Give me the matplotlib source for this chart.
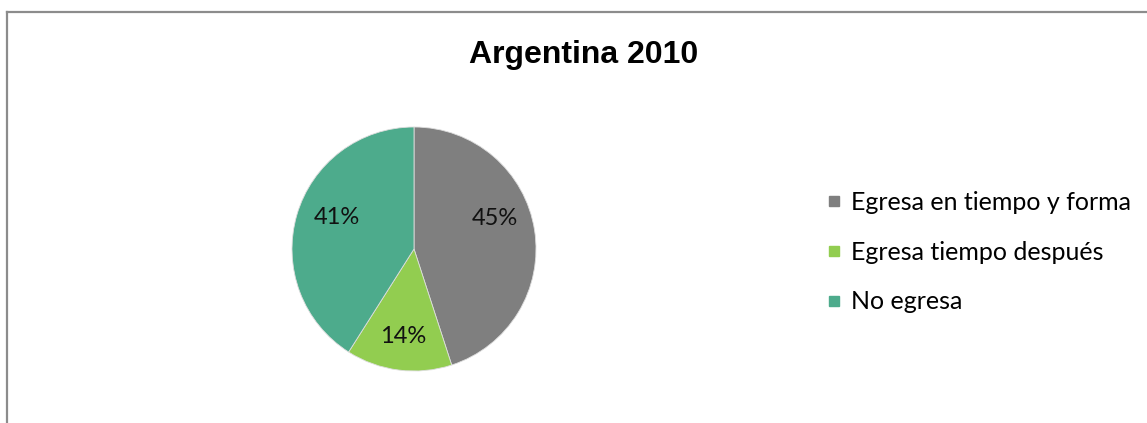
import matplotlib.pyplot as plt
from matplotlib.lines import Line2D

# Egreso de estudiantes - Argentina 2010
categorias = ["Egresa en tiempo y forma", "Egresa tiempo después", "No egresa"]
porcentajes = [45, 14, 41]
colores = ["#7F7F7F", "#92CD50", "#4DAB8C"]

plt.rcParams['font.family'] = ['Lato', 'DejaVu Sans']

fig = plt.figure(figsize=(11.47, 4.23), dpi=100)
W, H = 1147, 423

# marco del grafico (solo borde superior e izquierdo)
fig.add_artist(Line2D([7 / W, 1], [1 - 12.5 / H, 1 - 12.5 / H], color="#8c8c8c", lw=1.6))
fig.add_artist(Line2D([7.5 / W, 7.5 / W], [0, 1 - 12.5 / H], color="#8c8c8c", lw=1.6))

# torta
cx, cy, r = 414, 249, 122
ax = fig.add_axes([(cx - r) / W, 1 - (cy + r) / H, 2 * r / W, 2 * r / H])
wedges, texts, autotexts = ax.pie(
    porcentajes, colors=colores, startangle=90, counterclock=False,
    autopct="%1.0f%%", pctdistance=0.7,
    wedgeprops=dict(edgecolor="#dddddd", linewidth=0.6),
    textprops=dict(fontsize=17, color="#111111"))
ax.set_xlim(-1, 1)
ax.set_ylim(-1, 1)
ax.set_aspect("equal")

# pequeño ajuste de la ubicación de los porcentajes
ajustes = [(-0.03, 0.14), (0.0, -0.025), (0.04, 0.065)]
for t, (dx, dy) in zip(autotexts, ajustes):
    x, y = t.get_position()
    t.set_position((x + dx, y + dy))

fig.text(584 / W, 1 - 55 / H, "Argentina 2010", ha="center", va="center",
         fontsize=23, fontweight="bold", family=["Liberation Sans", "DejaVu Sans"])

handles = [Line2D([], [], marker="s", linestyle="none", markersize=7.5,
                  markerfacecolor=c, markeredgecolor=c) for c in colores]
fig.legend(handles, categorias, loc="center left",
           bbox_to_anchor=(816 / W, 1 - 252 / H), frameon=False,
           fontsize=18, handlelength=0.6, handletextpad=0.4,
           labelspacing=1.07, borderaxespad=0)

fig.savefig("out.png", dpi=100)
